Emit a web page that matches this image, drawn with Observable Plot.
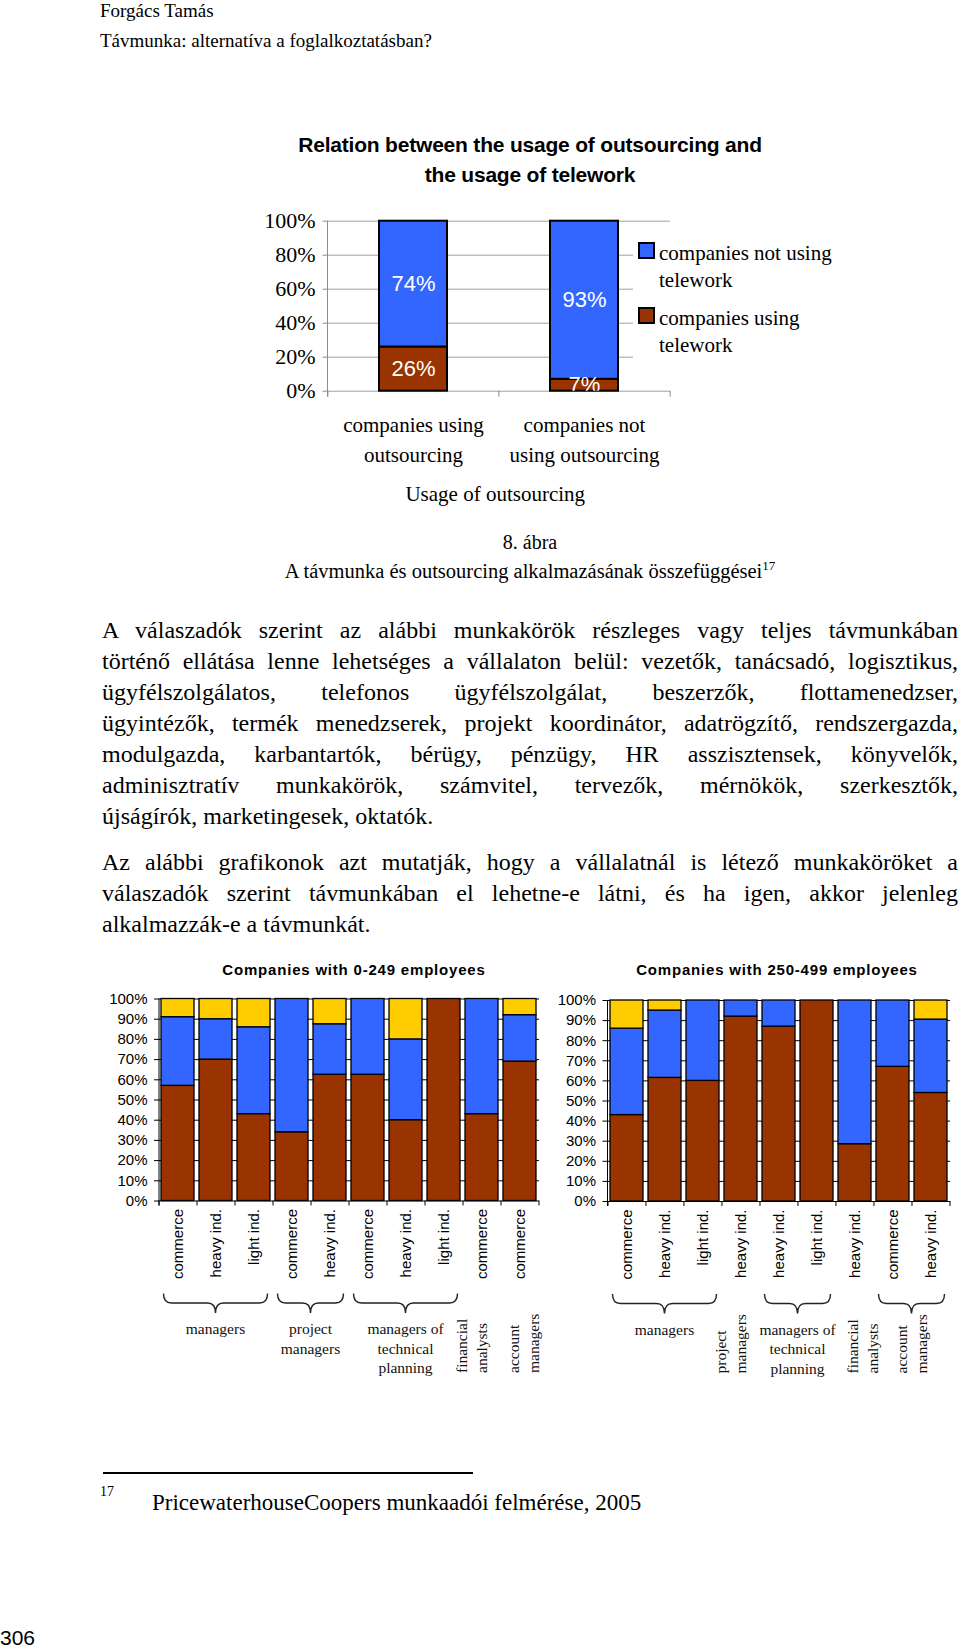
<!DOCTYPE html>
<html><head><meta charset="utf-8">
<script src="https://cdn.jsdelivr.net/npm/d3@7"></script>
<script src="https://cdn.jsdelivr.net/npm/@observablehq/plot@0.6"></script>
<style>
html,body{margin:0;padding:0;background:#fff;}
#page{position:relative;width:960px;height:1648px;overflow:hidden;background:#fff;color:#000;font-family:"Liberation Serif","Times New Roman",serif;}
.abs{position:absolute;white-space:nowrap;}
svg{position:absolute;}
</style></head><body><div id="page"></div>
<script>
// ================= DATA =================
// Top chart: Relation between the usage of outsourcing and the usage of telework
const topCategories = ["companies using\noutsourcing", "companies not\nusing outsourcing"];
const topSeries = ["companies using telework", "companies not using telework"];
const topUsingTelework = [26, 7];
const topNotUsingTelework = [74, 93];
const topTicks = [0, 20, 40, 60, 80, 100];

// Small charts (stacked segments: lower = brown, middle = blue, upper = yellow)
const smallSeries = ["lower", "middle", "upper"];
const smallTicks = [0, 10, 20, 30, 40, 50, 60, 70, 80, 90, 100];

// Companies with 0-249 employees
const smallA_labels = ["commerce", "heavy ind.", "light ind.", "commerce", "heavy ind.", "commerce", "heavy ind.", "light ind.", "commerce", "commerce"];
const smallA_lower  = [57, 70, 43, 34, 62.5, 62.5, 40, 100, 43, 69];
const smallA_middle = [34, 20, 43, 66, 25, 37.5, 40, 0, 57, 23];
const smallA_upper  = [9, 10, 14, 0, 12.5, 0, 20, 0, 0, 8];
const smallA_groups = ["managers", "project\nmanagers", "managers of\ntechnical\nplanning", "financial\nanalysts", "account\nmanagers"];
const smallA_groupFirst = [0, 3, 5, 8, 9];
const smallA_groupLast  = [2, 4, 7, 8, 9];

// Companies with 250-499 employees
const smallB_labels = ["commerce", "heavy ind.", "light ind.", "heavy ind.", "heavy ind.", "light ind.", "heavy ind.", "commerce", "heavy ind."];
const smallB_lower  = [43, 61.5, 60, 92, 87, 100, 28.5, 67, 54];
const smallB_middle = [43, 33.5, 40, 8, 13, 0, 71.5, 33, 36.5];
const smallB_upper  = [14, 5, 0, 0, 0, 0, 0, 0, 9.5];
const smallB_groups = ["managers", "project\nmanagers", "managers of\ntechnical\nplanning", "financial\nanalysts", "account\nmanagers"];
const smallB_groupFirst = [0, 3, 4, 6, 7];
const smallB_groupLast  = [2, 3, 5, 6, 8];

// Page texts
const headerLines = ["Forgács Tamás", "Távmunka: alternatíva a foglalkoztatásban?"];
const topTitleLines = ["Relation between the usage of outsourcing and", "the usage of telework"];
const figureNo = "8. ábra";
const figureCaption = "A távmunka és outsourcing alkalmazásának összefüggései";
const paragraph1 = [
  "A válaszadók szerint az alábbi munkakörök részleges vagy teljes távmunkában",
  "történő ellátása lenne lehetséges a vállalaton belül: vezetők, tanácsadó, logisztikus,",
  "ügyfélszolgálatos, telefonos ügyfélszolgálat, beszerzők, flottamenedzser,",
  "ügyintézők, termék menedzserek, projekt koordinátor, adatrögzítő, rendszergazda,",
  "modulgazda, karbantartók, bérügy, pénzügy, HR asszisztensek, könyvelők,",
  "adminisztratív munkakörök, számvitel, tervezők, mérnökök, szerkesztők,",
  "újságírók, marketingesek, oktatók."
];
const paragraph2 = [
  "Az alábbi grafikonok azt mutatják, hogy a vállalatnál is létező munkaköröket a",
  "válaszadók szerint távmunkában el lehetne-e látni, és ha igen, akkor jelenleg",
  "alkalmazzák-e a távmunkát."
];
const smallTitles = ["Companies with 0-249 employees", "Companies with 250-499 employees"];
const footnoteMark = "17";
const footnoteText = "PricewaterhouseCoopers munkaadói felmérése, 2005";
const pageNumber = "306";

// ================= LAYOUT =================
const serif = "'Liberation Serif', 'Times New Roman', serif";
const sans = "'Liberation Sans', Arial, sans-serif";
const page = document.getElementById("page");

function place(html, o) {
  const d = document.createElement("div");
  d.className = "abs";
  const lh = o.lh || Math.round(o.size * 1.3);
  d.style.top = (o.cy - lh / 2) + "px";
  d.style.lineHeight = lh + "px";
  d.style.height = lh + "px";
  d.style.fontSize = o.size + "px";
  d.style.fontFamily = o.family || serif;
  if (o.weight) d.style.fontWeight = o.weight;
  if (o.ls) d.style.letterSpacing = o.ls + "px";
  if (o.cx != null) { d.style.left = (o.cx - 480) + "px"; d.style.width = "960px"; d.style.textAlign = "center"; }
  else d.style.left = o.x + "px";
  if (o.justify) {
    d.style.width = o.justify + "px";
    d.style.whiteSpace = "normal";
    d.style.textAlign = "justify";
    d.style.textAlignLast = "justify";
  }
  d.innerHTML = html;
  page.appendChild(d);
  return d;
}

// Header
place(headerLines[0], {x: 100, cy: 11, size: 19, lh: 20});
place(headerLines[1], {x: 100, cy: 41, size: 19, lh: 22});

// Top chart title
topTitleLines.forEach((t, k) => place(t, {cx: 530, cy: 145 + 30 * k, size: 21, lh: 28, family: sans, weight: "bold", ls: -0.2}));

// Caption
place(figureNo, {cx: 530, cy: 542, size: 20, lh: 26});
place(figureCaption + '<span style="font-size:13px;position:relative;top:-8px">' + footnoteMark + '</span>', {cx: 530, cy: 571, size: 20.5, lh: 26});

// Body paragraphs
const bodySize = 24, bodyLH = 31;
paragraph1.forEach((t, k) => place(t, {x: 102, cy: 630 + 31.08 * k, size: bodySize, lh: bodyLH, justify: k < paragraph1.length - 1 ? 856 : null}));
paragraph2.forEach((t, k) => place(t, {x: 102, cy: 862 + 31 * k, size: bodySize, lh: bodyLH, justify: k < paragraph2.length - 1 ? 856 : null}));

// Small chart titles
place(smallTitles[0], {cx: 354, cy: 970, size: 15, lh: 20, family: sans, weight: "bold", ls: 0.8});
place(smallTitles[1], {cx: 777, cy: 970, size: 15, lh: 20, family: sans, weight: "bold", ls: 0.8});

// Footnote
const rule = document.createElement("div");
Object.assign(rule.style, {position: "absolute", left: "103px", top: "1472px", width: "370px", height: "1.5px", background: "#000"});
page.appendChild(rule);
place(footnoteMark, {x: 100, cy: 1492, size: 14, lh: 18});
place(footnoteText, {x: 152, cy: 1503, size: 23, lh: 28});
place(pageNumber, {x: 0, cy: 1638, size: 21, lh: 24, family: sans});

// Function mark: left axis line (frame edge), extended below the baseline
function axisLine(color, extend) {
  return (index, scales, values, dims) => {
    const g = d3.create("svg:g");
    g.append("line")
      .attr("x1", dims.marginLeft).attr("x2", dims.marginLeft)
      .attr("y1", dims.marginTop).attr("y2", dims.height - dims.marginBottom + extend)
      .attr("stroke", color).attr("stroke-width", 1);
    return g.node();
  };
}

// Function mark: curly braces and group labels under small charts
function groupMark(names, first, last, rotated) {
  return (index, scales, values, dims) => {
    const sx = scales.x;
    const bw = sx.bandwidth ? sx.bandwidth() : 0;
    const st = sx.step ? sx.step() : (sx(1) - sx(0));
    const base = dims.height - dims.marginBottom;
    const g = d3.create("svg:g").attr("font-family", serif).attr("font-size", 15.5).attr("fill", "#111");
    names.forEach((name, k) => {
      const c0 = sx(first[k]) + bw / 2, c1 = sx(last[k]) + bw / 2;
      const cx = (c0 + c1) / 2;
      const lines = name.split("\n");
      if (last[k] > first[k]) {
        const xa = c0 - st / 2 + 5, xb = c1 + st / 2 - 5;
        const y0 = base + 93, y1 = base + 102.5, y2 = base + 112.5, r = 8;
        g.append("path")
          .attr("d", `M${xa},${y0}Q${xa},${y1} ${xa + r},${y1}L${cx - r},${y1}Q${cx},${y1} ${cx},${y2}Q${cx},${y1} ${cx + r},${y1}L${xb - r},${y1}Q${xb},${y1} ${xb},${y0}`)
          .attr("fill", "none").attr("stroke", "#222").attr("stroke-width", 1.4);
      }
      if (rotated.has(name)) {
        const off = rotated.get(name);
        lines.forEach((ln, j) => {
          g.append("text")
            .attr("transform", `translate(${cx + off + (j - (lines.length - 1) / 2) * 19.5},${base + 172.5}) rotate(-90)`)
            .attr("text-anchor", "start").attr("dy", "0.35em").text(ln);
        });
      } else {
        lines.forEach((ln, j) => {
          g.append("text").attr("x", cx).attr("y", base + 128.5 + j * 19.5)
            .attr("text-anchor", "middle").attr("dy", "0.35em").text(ln);
        });
      }
    });
    return g.node();
  };
}

function mount(svg, left, top) {
  svg.style.left = left + "px";
  svg.style.top = top + "px";
  page.appendChild(svg);
}

// ---------- Top chart ----------
const topData = topCategories.flatMap((c, i) => [
  {category: c, series: topSeries[0], value: topUsingTelework[i]},
  {category: c, series: topSeries[1], value: topNotUsingTelework[i]}
]);
const T = {left: 240, top: 195, width: 600, height: 320};
const TF = {x0: 327.5, x1: 670, y0: 220.7, y1: 390.7};
const tStep = (TF.x1 - TF.x0) / topCategories.length;
const topPlot = Plot.plot({
  width: T.width, height: T.height,
  marginLeft: TF.x0 - T.left, marginRight: T.left + T.width - TF.x1,
  marginTop: TF.y0 - T.top, marginBottom: T.top + T.height - TF.y1,
  style: {fontFamily: serif, fontSize: "21px", color: "#000", background: "transparent", overflow: "visible"},
  x: {domain: topCategories, paddingInner: 0.6, paddingOuter: 0.3, label: null},
  y: {domain: [0, 100], label: null},
  color: {domain: topSeries, range: ["#993300", "#3366ff"]},
  marks: [
    Plot.gridY(topTicks, {stroke: "#a0a0a0", strokeOpacity: 1}),
    axisLine("#8c8c8c", 6),
    Plot.axisY(topTicks, {tickFormat: d => d + "%", tickSize: 5, tickPadding: 7.5, stroke: "#8c8c8c", fill: "#000", fontSize: 22, label: null}),
    Plot.axisX(topCategories, {tickSize: 6, dx: -tStep / 2, tickFormat: () => "", stroke: "#8c8c8c", label: null}),
    Plot.axisX(topCategories.slice(-1), {tickSize: 6, dx: tStep / 2, tickFormat: () => "", stroke: "#8c8c8c", label: null}),
    Plot.barY(topData, {x: "category", y: "value", fill: "series", stroke: "#000", strokeWidth: 2}),
    Plot.text(topData, Plot.stackY({x: "category", y: "value", z: "series", text: d => d.value + "%", fill: "#fff", fontFamily: sans, fontSize: 22, clip: true})),
    Plot.text(topCategories, {x: d => d, frameAnchor: "bottom", dy: 46, lineAnchor: "middle", lineHeight: 30 / 21, fontSize: 21, fill: "#000"}),
    Plot.text(["Usage of outsourcing"], {frameAnchor: "bottom", dy: 110, dx: -4, fontSize: 21, fill: "#000"})
  ]
});
mount(topPlot, T.left, T.top);

// Top chart legend (HTML, on top of the gridlines)
const legend = document.createElement("div");
Object.assign(legend.style, {position: "absolute", left: "633px", top: "232px", width: "205px", height: "128px", background: "#fff", zIndex: 2});
page.appendChild(legend);
const legendColors = ["#3366ff", "#993300"];
const legendItems = [topSeries[1], topSeries[0]];
legendItems.forEach((name, k) => {
  const sq = document.createElement("div");
  Object.assign(sq.style, {position: "absolute", left: "5px", top: (10 + 65 * k) + "px", width: "13px", height: "13px", background: legendColors[k], border: "2px solid #000"});
  legend.appendChild(sq);
  const words = name.replace(" telework", "");
  [words, "telework"].forEach((ln, j) => {
    const t = document.createElement("div");
    Object.assign(t.style, {position: "absolute", left: "26px", top: (21 + 65 * k + 27 * j - 13) + "px", lineHeight: "26px", fontSize: "21px", fontFamily: serif, whiteSpace: "nowrap"});
    t.textContent = ln;
    legend.appendChild(t);
  });
});

// ---------- Small charts ----------
function smallChart(cfg) {
  const {labels, lower, middle, upper, groups, groupFirst, groupLast, rotatedGroups, box, frame} = cfg;
  const n = labels.length;
  const idx = d3.range(n);
  const data = idx.flatMap(i => [
    {i, series: smallSeries[0], value: lower[i]},
    {i, series: smallSeries[1], value: middle[i]},
    {i, series: smallSeries[2], value: upper[i]}
  ]).filter(d => d.value > 0);
  const step = (frame.x1 - frame.x0) / n;
  return Plot.plot({
    width: box.width, height: box.height,
    marginLeft: frame.x0 - box.left, marginRight: box.left + box.width - frame.x1,
    marginTop: frame.y0 - box.top, marginBottom: box.top + box.height - frame.y1,
    style: {fontFamily: sans, fontSize: "15px", color: "#000", background: "transparent", overflow: "visible"},
    x: {domain: idx, paddingInner: 0.13, paddingOuter: 0.065, label: null},
    y: {domain: [0, 100], label: null},
    color: {domain: smallSeries, range: ["#993300", "#3366ff", "#ffcc00"]},
    marks: [
      Plot.gridY(smallTicks, {stroke: "#000", strokeOpacity: 1}),
      axisLine("#000", 5),
      Plot.axisY(smallTicks, {tickFormat: d => d + "%", tickSize: 5, tickPadding: 7, fontSize: 15, label: null}),
      Plot.axisX(idx, {tickSize: 5, dx: -step / 2, tickFormat: () => "", label: null}),
      Plot.axisX([n - 1], {tickSize: 5, dx: step / 2, tickFormat: () => "", label: null}),
      Plot.barY(data, {x: "i", y: "value", fill: "series", stroke: "#000", strokeWidth: 1.3}),
      Plot.axisX(idx, {tickSize: 0, tickPadding: 8, tickRotate: -90, tickFormat: i => labels[i], fontSize: 15, label: null}),
      groupMark(groups, groupFirst, groupLast, rotatedGroups)
    ]
  });
}

// rotated group labels with their horizontal nudge (px)
const rotatedA = new Map([["financial\nanalysts", -10], ["account\nmanagers", 4]]);
const rotatedB = new Map([["project\nmanagers", -10], ["financial\nanalysts", 8], ["account\nmanagers", 0]]);

const boxA = {left: 95, top: 985, width: 450, height: 400};
const chartA = smallChart({
  labels: smallA_labels, lower: smallA_lower, middle: smallA_middle, upper: smallA_upper,
  groups: smallA_groups, groupFirst: smallA_groupFirst, groupLast: smallA_groupLast, rotatedGroups: rotatedA,
  box: boxA, frame: {x0: 159, x1: 539, y0: 998.5, y1: 1200.5}
});
mount(chartA, boxA.left, boxA.top);

const boxB = {left: 545, top: 985, width: 415, height: 400};
const chartB = smallChart({
  labels: smallB_labels, lower: smallB_lower, middle: smallB_middle, upper: smallB_upper,
  groups: smallB_groups, groupFirst: smallB_groupFirst, groupLast: smallB_groupLast, rotatedGroups: rotatedB,
  box: boxB, frame: {x0: 607.5, x1: 950, y0: 1000, y1: 1201}
});
mount(chartB, boxB.left, boxB.top);
</script></body></html>
